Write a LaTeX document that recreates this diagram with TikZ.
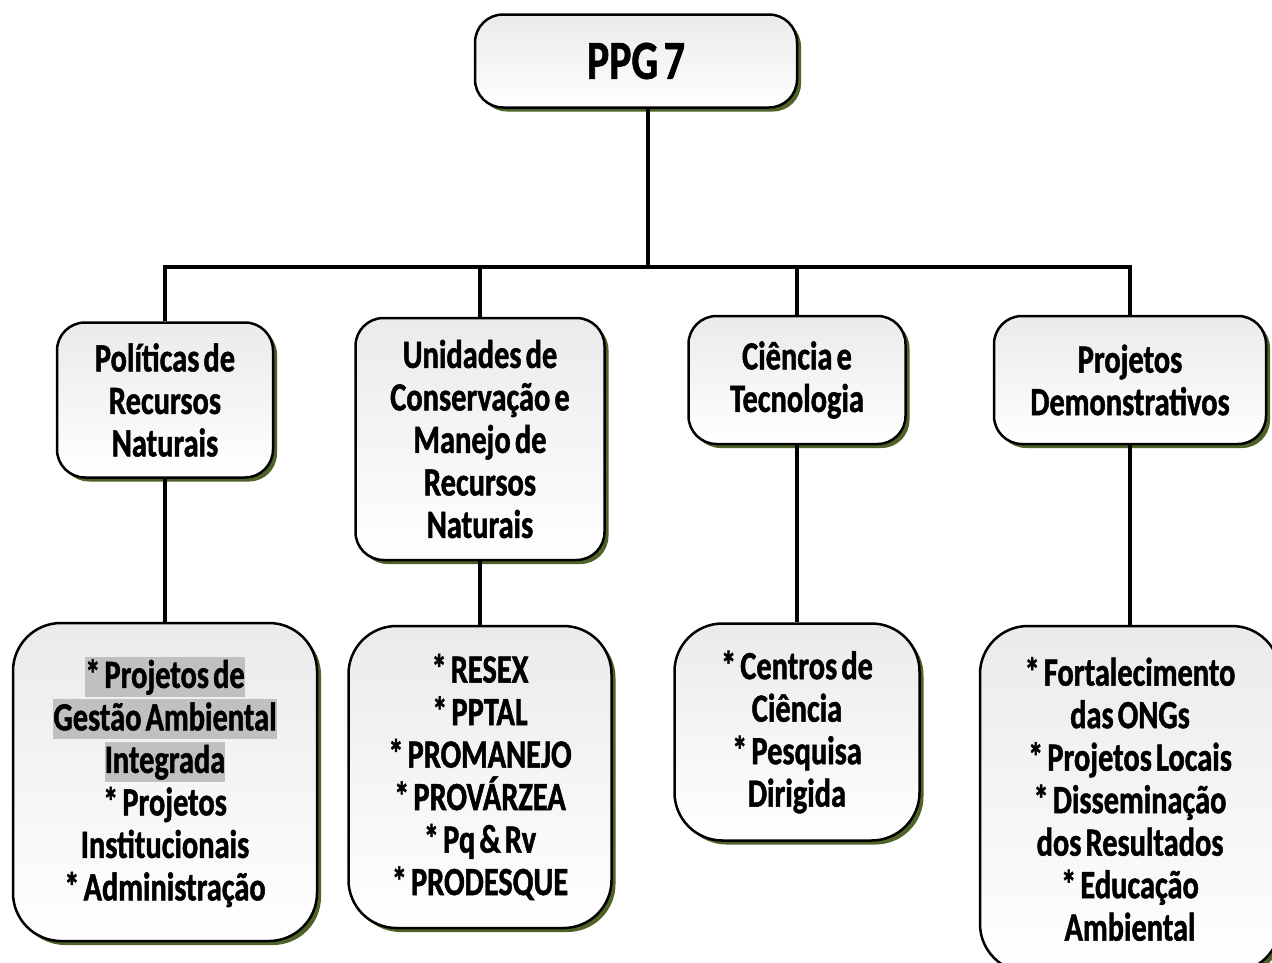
\documentclass[tikz,border=0pt]{standalone}
\usepackage{fontspec}
\usepackage{xcolor}
\usepackage{tikz}
\usetikzlibrary{shadows}
\newfontfamily\boxfont{Carlito}[FakeStretch=0.76, WordSpace=0.6, FakeBold=1.2]
\definecolor{shadowolive}{HTML}{4F6228}
\definecolor{hlgray}{HTML}{C0C0C0}
\newcommand{\hl}[1]{{\setlength{\fboxsep}{0pt}\colorbox{hlgray}{\rule[-9pt]{0pt}{40pt}#1}}}

\begin{document}
\begin{tikzpicture}[x=1pt, y=-1pt,
	box/.style={draw=black, line width=2.5pt, rounded corners=28pt, align=center,
		top color=black!8, bottom color=white, inner sep=0pt,
		drop shadow={shadow xshift=4pt, shadow yshift=-4pt, fill=shadowolive, opacity=1},
		font=\boxfont\bfseries\fontsize{40}{42.5}\selectfont},
	bigbox/.style={box, rounded corners=48pt},
	link/.style={line width=3.6pt}]

	\useasboundingbox (0,0) rectangle (1272,962);
	\fill[white] (0,0) rectangle (1272,962);

	% top
	\node[box, minimum width=322pt, minimum height=93pt,
		font=\boxfont\bfseries\fontsize{55}{57}\selectfont] (ppg) at (636,61) {PPG 7};
	\coordinate (bus) at (648,267);

	% second row
	\node[box, minimum width=216pt, minimum height=155pt] (pol) at (165,400)
		{Políticas de\\Recursos\\Naturais};
	\node[box, minimum width=249pt, minimum height=242pt] (uni) at (480,439)
		{Unidades de\\Conservação e\\Manejo de\\Recursos\\Naturais};
	\node[box, minimum width=217pt, minimum height=128pt] (cie) at (797,380)
		{Ciência e\\Tecnologia};
	\node[box, minimum width=272pt, minimum height=128pt] (pro) at (1130,380)
		{Projetos\\Demonstrativos};

	% third row
	\node[bigbox, minimum width=304pt, minimum height=318pt] (polx) at (165,782)
		{\hl{* Projetos de}\\\hl{Gestão Ambiental}\\\hl{Integrada}\\* Projetos\\Institucionais\\* Administração};
	\node[bigbox, minimum width=263pt, minimum height=302pt] (unix) at (480,777)
		{* RESEX\\* PPTAL\\* PROMANEJO\\* PROVÁRZEA\\* Pq \& Rv\\* PRODESQUE};
	\node[bigbox, minimum width=245pt, minimum height=217pt] (ciex) at (797,732)
		{* Centros de\\Ciência\\* Pesquisa\\Dirigida};
	\node[bigbox, minimum width=300pt, minimum height=346pt] (prox) at (1130,799)
		{* Fortalecimento\\das ONGs\\* Projetos Locais\\* Disseminação\\dos Resultados\\* Educação\\Ambiental};

	% connectors
	\draw[link] (ppg.south -| bus) -- (bus);
	\draw[link] (pol.north) |- (bus) -| (pro.north);
	\draw[link] (uni.north) -- (uni.north |- bus);
	\draw[link] (cie.north) -- (cie.north |- bus);
	\draw[link] (pol.south) -- (polx.north);
	\draw[link] (uni.south) -- (unix.north);
	\draw[link] (cie.south) -- (ciex.north);
	\draw[link] (pro.south) -- (prox.north);

\end{tikzpicture}
\end{document}
